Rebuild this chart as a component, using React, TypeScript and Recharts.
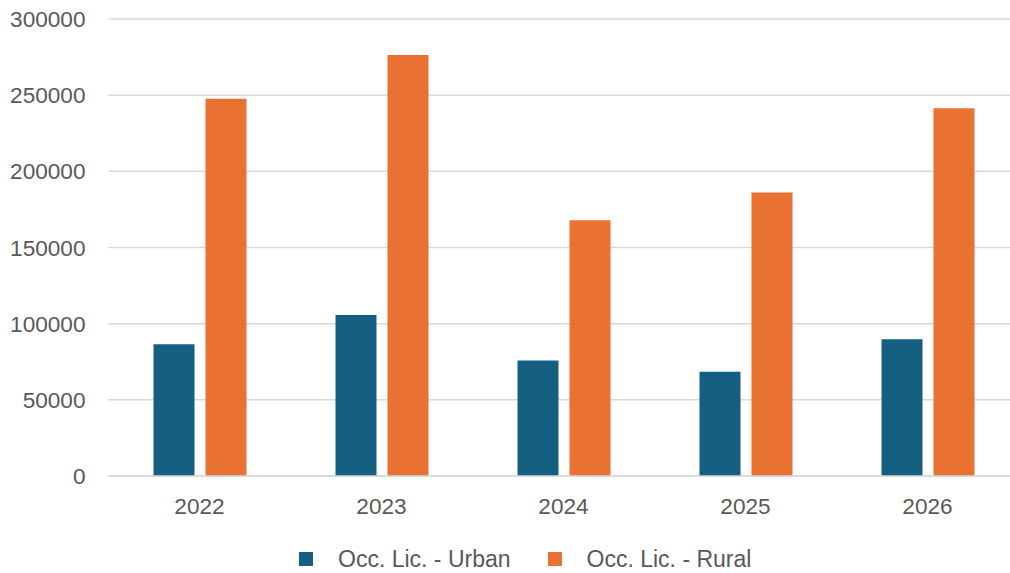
import { Bar, BarChart, CartesianGrid, XAxis, YAxis } from "recharts";

const years = ["2022", "2023", "2024", "2025", "2026"];
const urban = [86500, 105700, 75900, 68500, 89800];
const rural = [247600, 276400, 167900, 186100, 241400];
const yTicks = [0, 50000, 100000, 150000, 200000, 250000, 300000];
const seriesNames = ["Occ. Lic. - Urban", "Occ. Lic. - Rural"];

const BLUE = "#156082";
const ORANGE = "#E97132";
const TEXT = "#595959";
const GRID = "#D9D9D9";
const FONT = "'Liberation Sans', Arial, sans-serif";

const data = years.map((year, i) => ({ year, urban: urban[i], rural: rural[i] }));

export default function App() {
  const tick = { fontSize: 22.6, fill: TEXT, fontFamily: FONT };
  return (
    <div
      style={{
        position: "absolute",
        left: 0,
        top: 0,
        width: 1010,
        height: 573,
        overflow: "hidden",
        background: "#fff",
      }}
    >
      <BarChart
        width={1020}
        height={573}
        data={data}
        margin={{ top: 19, right: 1.5, bottom: 0, left: 0 }}
        barSize={41}
        barGap={11}
      >
        <CartesianGrid stroke={GRID} strokeWidth={1.5} vertical={false} />
        <XAxis
          dataKey="year"
          tick={tick}
          tickLine={false}
          tickSize={0}
          tickMargin={22}
          axisLine={{ stroke: GRID, strokeWidth: 1.5 }}
          height={97}
        />
        <YAxis
          domain={[0, 300000]}
          ticks={yTicks}
          tick={tick}
          tickLine={false}
          tickSize={0}
          tickMargin={23}
          axisLine={false}
          width={108.5}
          interval={0}
        />
        <Bar dataKey="urban" name={seriesNames[0]} fill={BLUE} isAnimationActive={false} />
        <Bar dataKey="rural" name={seriesNames[1]} fill={ORANGE} isAnimationActive={false} />
      </BarChart>
      <div
        style={{
          position: "absolute",
          top: 548,
          left: 299,
          display: "flex",
          alignItems: "center",
          fontFamily: FONT,
          fontSize: 23,
          lineHeight: "22px",
          color: TEXT,
          whiteSpace: "nowrap",
        }}
      >
        {seriesNames.map((name, i) => (
          <div key={name} style={{ display: "flex", alignItems: "center", marginRight: 37 }}>
            <span
              style={{
                display: "inline-block",
                width: 14,
                height: 14,
                background: i === 0 ? BLUE : ORANGE,
                marginRight: 25,
              }}
            />
            <span>{name}</span>
          </div>
        ))}
      </div>
    </div>
  );
}
